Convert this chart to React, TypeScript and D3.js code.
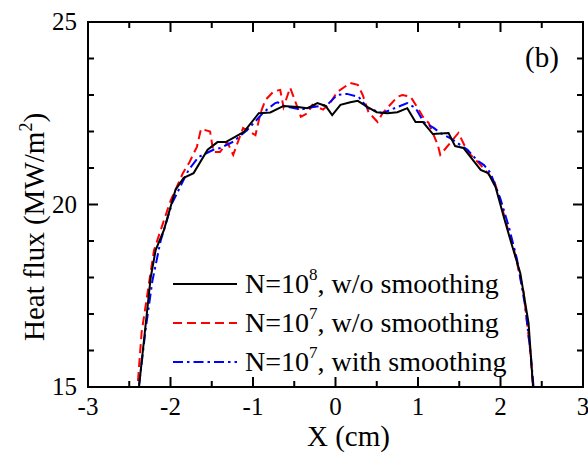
import React from 'react';
import * as d3 from 'd3';

// N=10^8, w/o smoothing (black solid)
const blackX = [-2.42, -2.24, -2.18, -2.08, -1.94, -1.84, -1.72, -1.55, -1.43, -1.33, -1.11, -0.93, -0.79, -0.63, -0.46, -0.34, -0.22, -0.12, -0.04, 0.06, 0.18, 0.27, 0.39, 0.5, 0.63, 0.75, 0.87, 0.97, 1.06, 1.18, 1.37, 1.45, 1.55, 1.76, 1.85, 1.94, 2.04, 2.12, 2.24, 2.34, 2.42];
const blackY = [14.2, 18.0, 18.75, 19.3, 20.4, 20.73, 20.86, 21.5, 21.71, 21.71, 21.99, 22.5, 22.52, 22.7, 22.67, 22.64, 22.78, 22.7, 22.45, 22.73, 22.8, 22.84, 22.67, 22.53, 22.5, 22.53, 22.64, 22.26, 22.26, 21.93, 21.96, 21.6, 21.55, 20.95, 20.86, 20.48, 19.66, 19.03, 18.12, 16.75, 14.2];

// N=10^7, w/o smoothing (red dashed)
const redX = [-2.42, -2.35, -2.26, -2.2, -2.0, -1.85, -1.77, -1.68, -1.63, -1.52, -1.48, -1.4, -1.31, -1.24, -1.12, -0.97, -0.91, -0.85, -0.75, -0.67, -0.63, -0.55, -0.48, -0.42, -0.34, -0.28, -0.15, -0.06, 0.02, 0.18, 0.27, 0.33, 0.4, 0.51, 0.57, 0.75, 0.81, 0.91, 0.99, 1.06, 1.13, 1.24, 1.27, 1.49, 1.6, 1.76, 1.92, 2.0, 2.06, 2.16, 2.28, 2.36, 2.41];
const redY = [14.4, 16.5, 17.85, 18.75, 20.1, 20.86, 21.16, 21.58, 22.07, 22.0, 21.44, 21.44, 21.7, 21.36, 22.1, 21.9, 22.5, 22.86, 23.1, 23.14, 22.67, 23.2, 22.78, 22.4, 22.5, 22.73, 22.6, 22.8, 23.08, 23.33, 23.28, 23.0, 22.53, 22.26, 22.5, 22.95, 23.0, 22.95, 22.67, 22.4, 22.23, 21.63, 21.36, 21.96, 21.45, 21.08, 20.67, 20.1, 19.55, 18.8, 17.6, 16.0, 14.5];

// N=10^7, with smoothing (blue dash-dot)
const blueX = [-2.41, -2.3, -2.22, -2.12, -1.98, -1.78, -1.66, -1.48, -1.39, -1.24, -1.07, -0.87, -0.73, -0.7, -0.63, -0.42, -0.27, -0.1, 0.02, 0.14, 0.28, 0.39, 0.57, 0.75, 0.87, 0.97, 1.07, 1.19, 1.27, 1.39, 1.6, 1.72, 1.8, 1.88, 2.0, 2.1, 2.2, 2.3, 2.37, 2.42];
const blueY = [14.5, 16.6, 17.9, 19.0, 20.04, 20.95, 21.3, 21.5, 21.55, 21.72, 22.04, 22.53, 22.78, 22.8, 22.7, 22.6, 22.67, 22.73, 23.0, 23.03, 22.95, 22.64, 22.5, 22.67, 22.78, 22.64, 22.26, 22.1, 21.96, 21.82, 21.5, 21.2, 21.08, 20.86, 20.15, 19.4, 18.5, 17.2, 15.8, 14.5];

const xTicks = [-3, -2, -1, 0, 1, 2, 3];
const yTicks = [15, 20, 25];
const legendExp = ['8', '7', '7'];
const legendText = [', w/o smoothing', ', w/o smoothing', ', with smoothing'];

const W = 588;
const H = 455;
const left = 88, right = 583, top = 22, bottom = 387;
const font = '"Liberation Serif", "Times New Roman", serif';

export default function App() {
  const x = d3.scaleLinear().domain([-3, 3]).range([left, right]);
  const y = d3.scaleLinear().domain([15, 25]).range([bottom, top]);

  const line = d3
    .line<[number, number]>()
    .x((d) => x(d[0]))
    .y((d) => y(d[1]));

  const zip = (xs: number[], ys: number[]) => xs.map((v, i) => [v, ys[i]] as [number, number]);

  const series = [
    {pts: zip(blackX, blackY), color: '#000', dash: undefined},
    {pts: zip(redX, redY), color: '#ff0000', dash: '9,5'},
    {pts: zip(blueX, blueY), color: '#0000ff', dash: '10,4,2.5,4'},
  ];

  const xMinor = d3.range(-2.5, 3, 1);
  const yMinor = d3.range(15, 25.01, 1).filter((v) => v % 5 !== 0);

  return (
    <svg width={W} height={H} style={{position: 'absolute', left: 0, top: 0, background: '#fff'}} fontFamily={font}>
      <defs>
        <clipPath id="plot">
          <rect x={left} y={top} width={right - left} height={bottom - top} />
        </clipPath>
      </defs>

      {/* curves */}
      <g clipPath="url(#plot)" fill="none" strokeWidth={2}>
        {[series[1], series[2], series[0]].map((s, i) => (
          <path key={i} d={line(s.pts) || ''} stroke={s.color} strokeDasharray={s.dash} />
        ))}
      </g>

      {/* frame */}
      <rect x={left} y={top} width={right - left} height={bottom - top} fill="none" stroke="#000" strokeWidth={2} />

      {/* ticks, mirrored on all four sides */}
      <g stroke="#000" strokeWidth={2}>
        {xTicks.map((t) => (
          <g key={t}>
            <line x1={x(t)} x2={x(t)} y1={bottom} y2={bottom - 10} />
            <line x1={x(t)} x2={x(t)} y1={top} y2={top + 10} />
          </g>
        ))}
        {xMinor.map((t) => (
          <g key={t}>
            <line x1={x(t)} x2={x(t)} y1={bottom} y2={bottom - 6} />
            <line x1={x(t)} x2={x(t)} y1={top} y2={top + 6} />
          </g>
        ))}
        {yTicks.map((t) => (
          <g key={t}>
            <line x1={left} x2={left + 10} y1={y(t)} y2={y(t)} />
            <line x1={right} x2={right - 10} y1={y(t)} y2={y(t)} />
          </g>
        ))}
        {yMinor.map((t) => (
          <g key={t}>
            <line x1={left} x2={left + 6} y1={y(t)} y2={y(t)} />
            <line x1={right} x2={right - 6} y1={y(t)} y2={y(t)} />
          </g>
        ))}
      </g>

      {/* tick labels */}
      <g fontSize={25} fill="#000">
        {xTicks.map((t) => (
          <text key={t} x={x(t)} y={415} textAnchor="middle">
            {t < 0 ? '-' + Math.abs(t) : t}
          </text>
        ))}
        {yTicks.map((t) => (
          <text key={t} x={77} y={y(t) + 8} textAnchor="end">
            {t}
          </text>
        ))}
      </g>

      {/* axis titles */}
      <text x={307} y={446} fontSize={29}>X (cm)</text>
      <text transform={`translate(44,341) rotate(-90)`} fontSize={29}>
        Heat flux (MW/m<tspan fontSize={18} dy={-12}>2</tspan>
        <tspan dy={12}>)</tspan>
      </text>

      {/* panel label */}
      <text x={525} y={67} fontSize={29}>(b)</text>

      {/* legend */}
      {series.map((s, i) => {
        const ly = 284 + i * 39;
        return (
          <g key={i}>
            <line x1={173} x2={237} y1={ly} y2={ly} stroke={s.color} strokeWidth={2} strokeDasharray={s.dash} />
            <text x={245} y={ly + 9} fontSize={28}>
              N=10<tspan fontSize={17} dy={-13}>{legendExp[i]}</tspan>
              <tspan dy={13}>{legendText[i]}</tspan>
            </text>
          </g>
        );
      })}
    </svg>
  );
}
